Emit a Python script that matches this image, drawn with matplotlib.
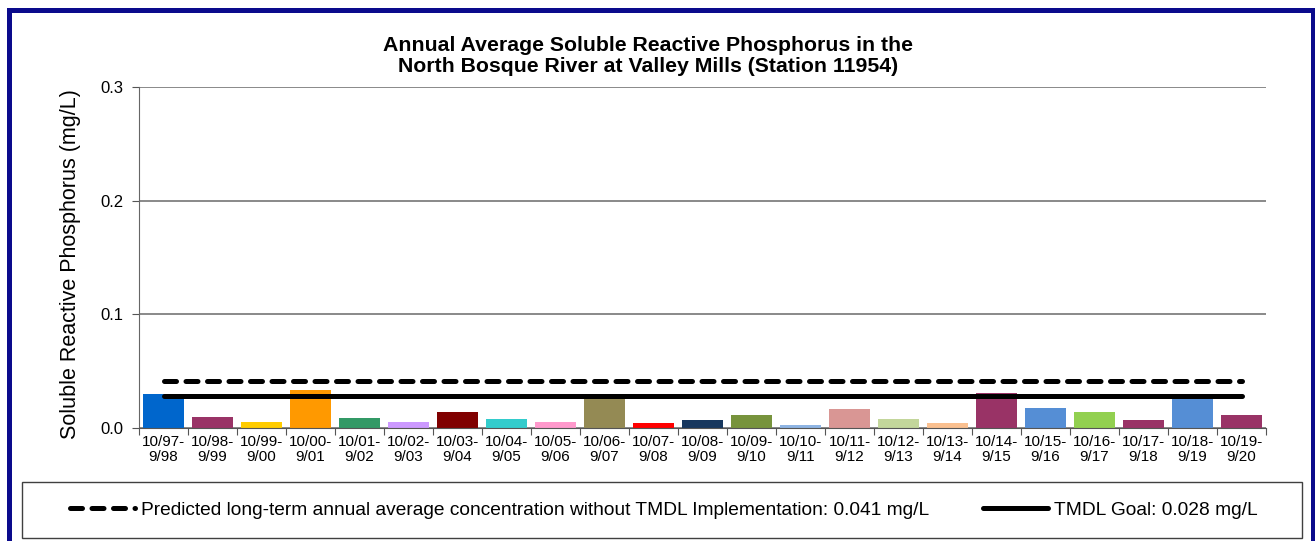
import matplotlib.pyplot as plt
from matplotlib.lines import Line2D
from matplotlib.patches import Rectangle

plt.rcParams['font.family'] = ['Liberation Sans', 'DejaVu Sans']

# water years (Oct - Sep)
years = ['10/97-\n9/98', '10/98-\n9/99', '10/99-\n9/00', '10/00-\n9/01', '10/01-\n9/02',
         '10/02-\n9/03', '10/03-\n9/04', '10/04-\n9/05', '10/05-\n9/06', '10/06-\n9/07',
         '10/07-\n9/08', '10/08-\n9/09', '10/09-\n9/10', '10/10-\n9/11', '10/11-\n9/12',
         '10/12-\n9/13', '10/13-\n9/14', '10/14-\n9/15', '10/15-\n9/16', '10/16-\n9/17',
         '10/17-\n9/18', '10/18-\n9/19', '10/19-\n9/20']

# annual average SRP, mg/L
srp = [0.030, 0.010, 0.005, 0.033, 0.009, 0.005, 0.014, 0.008, 0.005, 0.029,
       0.004, 0.007, 0.011, 0.003, 0.017, 0.008, 0.004, 0.031, 0.018, 0.014,
       0.007, 0.027, 0.011]

bar_colors = ['#0066CC', '#993366', '#FFCC00', '#FF9900', '#339966', '#CC99FF',
              '#800000', '#33CCCC', '#FF99CC', '#948A54', '#FF0000', '#17375E',
              '#77933C', '#8EB4E3', '#D99694', '#C3D69B', '#FAC090', '#993366',
              '#558ED5', '#92D050', '#993366', '#558ED5', '#993366']

predicted = 0.041
tmdl_goal = 0.028

pred_label = 'Predicted long-term annual average concentration without TMDL Implementation: 0.041 mg/L'
goal_label = 'TMDL Goal: 0.028 mg/L'

fig = plt.figure(figsize=(13.15, 5.41), dpi=100)
ax = fig.add_axes([139 / 1315, 1 - 428 / 541, 1127 / 1315, 341 / 541])

x = list(range(len(years)))
ax.bar(x, srp, width=0.82, color=bar_colors, zorder=2)

# reference lines from first to last bar
ax.plot([x[0], x[-1]], [predicted, predicted], color='black', lw=3.6,
        dashes=(2.4, 1.9), dash_capstyle='round', zorder=3)
ax.plot([x[0], x[-1]], [tmdl_goal, tmdl_goal], color='black', lw=3.6,
        solid_capstyle='round', zorder=3)

ax.set_xlim(-0.5, len(years) - 0.5)
ax.set_ylim(0, 0.3)
ax.set_yticks([0, 0.1, 0.2, 0.3])
ax.set_yticklabels(['0.0', '0.1', '0.2', '0.3'], fontsize=12)
ax.yaxis.grid(True, color='#808080', lw=1.3)
ax.set_axisbelow(True)

# tick marks between categories, labels at centres
ax.set_xticks([i - 0.5 for i in range(len(years) + 1)])
ax.set_xticklabels([])
ax.set_xticks(x, minor=True)
ax.set_xticklabels(years, minor=True, fontsize=11, linespacing=1.12)
ax.tick_params(axis='x', which='minor', length=0, pad=5)
ax.tick_params(axis='x', which='major', length=5, color='#555555')
ax.tick_params(axis='y', length=5, color='#555555', pad=6)

ax.spines['top'].set_visible(False)
ax.spines['right'].set_visible(False)
ax.spines['left'].set_color('#666666')
ax.spines['bottom'].set_color('#555555')

ax.set_ylabel('Soluble Reactive Phosphorus (mg/L)', fontsize=15.5, labelpad=14)
ax.yaxis.label.set_y(0.48)
ax.set_title('Annual Average Soluble Reactive Phosphorus in the\n'
             'North Bosque River at Valley Mills (Station 11954)',
             fontsize=15.3, fontweight='bold', x=0.452, pad=11, linespacing=1.12)

# legend in its own box below the chart
handles = [Line2D([], [], color='black', lw=3.6, dashes=(2.4, 1.9), dash_capstyle='round'),
           Line2D([], [], color='black', lw=3.6, solid_capstyle='round')]
fig.legend(handles, [pred_label, goal_label], loc='center',
           bbox_to_anchor=(663.5 / 1315, 1 - 510 / 541), ncol=2, frameon=False,
           fontsize=13.8, handlelength=3.4, columnspacing=2.8, handletextpad=0.3)
fig.add_artist(Rectangle((22 / 1315, 1 - 538 / 541), 1280 / 1315, 56 / 541,
                         transform=fig.transFigure, fill=False, ec='#404040', lw=1))

# outer frame
fig.add_artist(Rectangle((8.5 / 1315, -0.05), 1304 / 1315, 1.05 - 10 / 541,
                         transform=fig.transFigure, fill=False, ec='#0A0A8C', lw=3.6))

fig.savefig('out.png', dpi=100)
